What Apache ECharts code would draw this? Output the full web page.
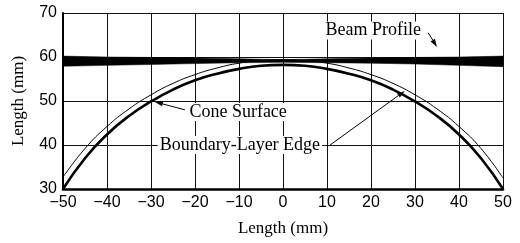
<!DOCTYPE html>
<html>
<head>
<meta charset="utf-8">
<script src="https://cdn.jsdelivr.net/npm/echarts@6/dist/echarts.min.js"></script>
<style>
  html, body { margin: 0; padding: 0; background: #fff; }
  #main { width: 520px; height: 243px; }
</style>
</head>
<body>
<div id="main"></div>
<script type="text/javascript">
// x positions (mm) for the arcs
var arcX = [-50, -45, -40, -35, -30, -25, -20, -15, -10, -5, 0, 5, 10, 15, 20, 25, 30, 35, 40, 45, 50];
// thick arc
var edgeY = [30.0, 37.0, 42.4, 46.6, 49.9, 52.6, 54.7, 56.2, 57.3, 58.0, 58.2, 58.0, 57.3, 56.2, 54.7, 52.6, 49.9, 46.6, 42.4, 37.0, 30.0];
// thin arc
var surfY = [32.7, 39.2, 44.2, 48.2, 51.4, 54.0, 56.0, 57.5, 58.6, 59.2, 59.4, 59.2, 58.6, 57.5, 56.0, 54.0, 51.4, 48.2, 44.2, 39.2, 32.5];
// beam profile band
var beamX = [-50, -40, -30, -20, -10, 0, 10, 20, 30, 40, 50];
var beamLow = [57.9, 58.1, 58.3, 58.5, 58.7, 58.8, 58.7, 58.6, 58.4, 58.1, 57.8];
var beamHigh = [60.2, 60.0, 59.9, 59.8, 59.6, 59.4, 59.6, 59.8, 59.9, 60.0, 60.2];

function pairs(xs, ys) {
    var out = [];
    for (var i = 0; i < xs.length; i++) out.push([xs[i], ys[i]]);
    return out;
}
var beamRows = [];
for (var i = 0; i < beamX.length; i++) beamRows.push([beamX[i], beamLow[i], beamHigh[i]]);

var serif = '"Liberation Serif", "DejaVu Serif", serif';
var sans = '"Liberation Sans", Arial, sans-serif';

var chart = echarts.init(document.getElementById('main'));
var option = {
    animation: false,
    backgroundColor: '#fff',
    grid: { left: 63, right: 17, top: 13, bottom: 54 },
    xAxis: {
        type: 'value', min: -50, max: 50, interval: 10,
        name: 'Length (mm)', nameLocation: 'middle', nameGap: 31,
        nameTextStyle: { fontFamily: serif, fontSize: 17, color: '#000' },
        axisLine: { show: true, onZero: false, lineStyle: { color: '#000', width: 2.5 } },
        axisTick: { show: false },
        axisLabel: {
            margin: 6, fontFamily: sans, fontSize: 16, color: '#000',
            formatter: function (v) { return String(v).replace('-', '\u2212'); }
        },
        splitLine: { show: true, lineStyle: { color: '#111', width: 1 } }
    },
    yAxis: {
        type: 'value', min: 30, max: 70, interval: 10,
        name: 'Length (mm)', nameLocation: 'middle', nameGap: 36,
        nameTextStyle: { fontFamily: serif, fontSize: 17, color: '#000' },
        axisLine: { show: true, onZero: false, lineStyle: { color: '#000', width: 2 } },
        axisTick: { show: false },
        axisLabel: { margin: 6, fontFamily: sans, fontSize: 16, color: '#000' },
        splitLine: { show: true, lineStyle: { color: '#111', width: 1 } }
    },
    series: [
        {
            // beam band: low edge forward, high edge back
            type: 'custom', z: 3,
            data: beamRows,
            encode: { x: 0, y: [1, 2] },
            renderItem: function (params, api) {
                if (params.dataIndex !== 0) return null;
                var pts = [];
                for (var k = 0; k < beamRows.length; k++) pts.push(api.coord([beamRows[k][0], beamRows[k][1]]));
                for (var k = beamRows.length - 1; k >= 0; k--) pts.push(api.coord([beamRows[k][0], beamRows[k][2]]));
                return {
                    type: 'polygon',
                    shape: { points: pts },
                    style: { fill: '#000', stroke: '#000', lineWidth: 0.5 }
                };
            }
        },
        {
            type: 'line', symbol: 'none', smooth: true,
            lineStyle: { color: '#000', width: 1 }, data: pairs(arcX, surfY), z: 4
        },
        {
            type: 'line', symbol: 'none', smooth: true,
            lineStyle: { color: '#000', width: 2.6 }, data: pairs(arcX, edgeY), z: 4
        }
    ]
};
chart.setOption(option);

// annotations placed in data space
function px(x, y) { return chart.convertToPixel({ gridIndex: 0 }, [x, y]); }
function label(text, x, y) {
    var p = px(x, y);
    return {
        type: 'text', x: p[0], y: p[1], z: 10,
        style: {
            text: text, fontFamily: serif, fontSize: 18, fill: '#000',
            align: 'center', verticalAlign: 'middle',
            backgroundColor: '#fff', padding: [0, 2]
        }
    };
}
function arrow(x1, y1, x2, y2) {
    var a = px(x1, y1), b = px(x2, y2);
    var ang = Math.atan2(b[1] - a[1], b[0] - a[0]);
    var L = 8, W = 2.5;
    var bx = b[0] - L * Math.cos(ang), by = b[1] - L * Math.sin(ang);
    var nx = -Math.sin(ang) * W, ny = Math.cos(ang) * W;
    return [
        { type: 'line', z: 11, shape: { x1: a[0], y1: a[1], x2: bx, y2: by }, style: { stroke: '#000', lineWidth: 1 } },
        { type: 'polygon', z: 11, shape: { points: [[b[0], b[1]], [bx + nx, by + ny], [bx - nx, by - ny]] }, style: { fill: '#000' } }
    ];
}
var g = [
    label('Beam Profile', 20.5, 66.0),
    label('Cone Surface', -10.2, 47.5),
    label('Boundary-Layer Edge', -9.8, 40.0)
];
g = g.concat(arrow(33.0, 65.5, 35.0, 62.3));
g = g.concat(arrow(-22.3, 48.0, -29.1, 49.8));
g = g.concat(arrow(10.7, 40.0, 27.7, 52.3));
chart.setOption({ graphic: g });
</script>
</body>
</html>
